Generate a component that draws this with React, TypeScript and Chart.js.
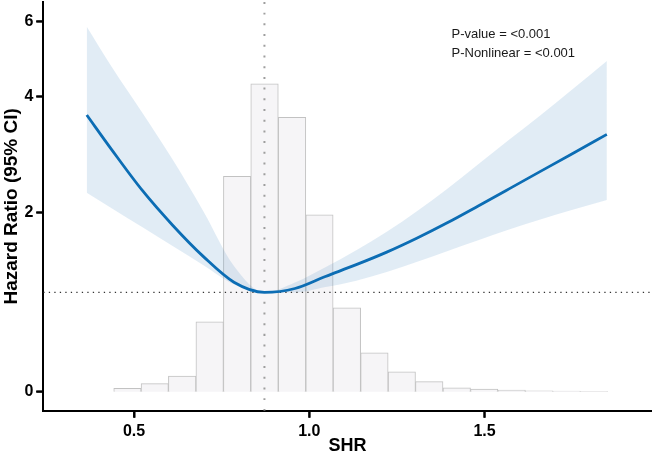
import { useEffect, useRef } from 'react';
import { Chart, registerables } from 'chart.js';

Chart.register(...registerables);

// spline estimate (SHR vs hazard ratio)
const shrGrid = [0.365, 0.436, 0.523, 0.61, 0.698, 0.785, 0.872, 0.959, 1.046, 1.134, 1.221, 1.308, 1.395, 1.482, 1.57, 1.657, 1.744, 1.849];
const hrEstimate = [3.617, 2.976, 2.323, 1.826, 1.421, 1.116, 1.0, 1.044, 1.183, 1.323, 1.477, 1.657, 1.862, 2.093, 2.343, 2.606, 2.885, 3.247];
const hrUpper = [5.827, 4.693, 3.667, 2.806, 2.014, 1.307, 1.0, 1.113, 1.293, 1.5, 1.738, 2.021, 2.349, 2.73, 3.149, 3.599, 4.116, 4.839];
const hrLower = [2.286, 2.061, 1.8, 1.555, 1.317, 1.092, 1.0, 1.0, 1.061, 1.134, 1.236, 1.359, 1.491, 1.627, 1.767, 1.899, 2.027, 2.178];

// SHR distribution (bin midpoints, % of patients)
const binMids = [0.481, 0.559, 0.637, 0.716, 0.794, 0.872, 0.951, 1.029, 1.107, 1.186, 1.264, 1.342, 1.421, 1.499, 1.577, 1.656, 1.734, 1.812];
const binPct = [0.28, 0.65, 1.26, 5.66, 17.46, 24.94, 22.24, 14.34, 6.79, 3.14, 1.6, 0.81, 0.32, 0.22, 0.14, 0.08, 0.05, 0.03];

const refShr = 0.872;
const refHr = 1;
const xTicks = [0.5, 1.0, 1.5];
const yTicks = [0, 2, 4, 6];
const pTexts = ['P-value = <0.001', 'P-Nonlinear = <0.001'];

const X_MIN = 0.241;
const X_MAX = 1.977;
// the HR axis is compressed towards the top
const toAxis = (hr: number) => 1 - Math.exp(-hr / 4.6);
const Y_MIN = -0.0374;
const Y_MAX = 0.7668;
const H_MIN = -1.54;
const H_MAX = 31.58;

const FONT = "'Liberation Sans', Arial, Helvetica, sans-serif";
const TICK_LEN = 7;

// p-value annotation and outward tick marks
const overlayPlugin = {
  id: 'overlay',
  afterDraw(chart: Chart) {
    const { ctx, chartArea } = chart;
    const sx = chart.scales.x;
    const sy = chart.scales.y;
    ctx.save();
    ctx.font = `13px ${FONT}`;
    ctx.fillStyle = '#1a1a1a';
    ctx.textAlign = 'left';
    ctx.textBaseline = 'alphabetic';
    pTexts.forEach((t, i) => ctx.fillText(t, 451.5, 37.6 + i * 19));

    ctx.fillStyle = '#000';
    xTicks.forEach((v) => {
      const px = sx.getPixelForValue(v);
      ctx.fillRect(px - 1, chartArea.bottom, 2, TICK_LEN);
    });
    yTicks.forEach((hr) => {
      const py = sy.getPixelForValue(toAxis(hr));
      ctx.fillRect(chartArea.left - TICK_LEN, py - 1, TICK_LEN, 2);
    });
    ctx.restore();
  },
};

export default function App() {
  const canvasRef = useRef<HTMLCanvasElement>(null);

  useEffect(() => {
    document.body.style.margin = '0';
    if (!canvasRef.current) return;
    const pts = (ys: number[]) => shrGrid.map((x, i) => ({ x, y: toAxis(ys[i]) }));
    const lineBase = { type: 'line' as const, pointRadius: 0, cubicInterpolationMode: 'monotone' as const };

    const chart = new Chart(canvasRef.current, {
      type: 'bar',
      data: {
        datasets: [
          {
            type: 'bar',
            data: binMids.map((x, i) => ({ x, y: binPct[i] })),
            yAxisID: 'y2',
            backgroundColor: '#f6f5f7',
            borderColor: '#c2c2c2',
            borderWidth: 1,
            barThickness: 'flex',
            barPercentage: 1,
            categoryPercentage: 1,
            order: 6,
          },
          {
            ...lineBase,
            data: [{ x: refShr, y: Y_MIN }, { x: refShr, y: Y_MAX }],
            borderColor: '#9e9e9e',
            borderWidth: 2,
            borderDash: [2, 8.7],
            order: 5,
          },
          {
            ...lineBase,
            data: pts(hrLower),
            borderWidth: 0,
            borderColor: 'rgba(0,0,0,0)',
            order: 4,
          },
          {
            ...lineBase,
            data: pts(hrUpper),
            borderWidth: 0,
            borderColor: 'rgba(0,0,0,0)',
            fill: '-1',
            backgroundColor: 'rgba(33,113,181,0.135)',
            order: 4,
          },
          {
            ...lineBase,
            data: [{ x: X_MIN, y: toAxis(refHr) }, { x: X_MAX, y: toAxis(refHr) }],
            borderColor: '#333',
            borderWidth: 1.3,
            borderDash: [1.3, 4.2],
            order: 2,
          },
          {
            ...lineBase,
            data: pts(hrEstimate),
            borderColor: '#0c6db4',
            borderWidth: 2.8,
            order: 1,
          },
        ],
      },
      options: {
        animation: false,
        responsive: true,
        maintainAspectRatio: false,
        layout: { padding: { left: 0, right: 3.3, top: 2, bottom: 0 } },
        plugins: { legend: { display: false }, tooltip: { enabled: false } },
        scales: {
          x: {
            type: 'linear',
            min: X_MIN,
            max: X_MAX,
            offset: false,
            afterFit: (s) => { s.height = 46.3; s.paddingLeft = 0; s.paddingRight = 0; },
            afterBuildTicks: (s) => { s.ticks = xTicks.map((value) => ({ value })); },
            grid: { offset: false, drawOnChartArea: false, drawTicks: true, tickLength: TICK_LEN, tickWidth: 2, tickColor: '#000' },
            border: { display: true, color: '#000', width: 2 },
            ticks: {
              autoSkip: false,
              maxRotation: 0,
              padding: 4,
              color: '#000',
              font: { family: FONT, size: 16, weight: 'bold' },
              callback: (v) => Number(v).toFixed(1),
            },
            title: {
              display: true,
              text: 'SHR',
              color: '#000',
              font: { family: FONT, size: 18, weight: 'bold' },
              padding: { top: 0, bottom: 0 },
            },
          },
          y: {
            type: 'linear',
            min: Y_MIN,
            max: Y_MAX,
            afterFit: (s) => { s.width = 43.3; s.paddingTop = 0; s.paddingBottom = 0; },
            afterBuildTicks: (s) => { s.ticks = yTicks.map((hr) => ({ value: toAxis(hr) })); },
            grid: { drawOnChartArea: false, drawTicks: true, tickLength: TICK_LEN, tickWidth: 2, tickColor: '#000' },
            border: { display: true, color: '#000', width: 2 },
            ticks: {
              autoSkip: false,
              padding: 3,
              color: '#000',
              font: { family: FONT, size: 16, weight: 'bold' },
              callback: (_v, i) => String(yTicks[i]),
            },
            title: {
              display: true,
              text: 'Hazard Ratio (95% CI)',
              color: '#000',
              font: { family: FONT, size: 19, weight: 'bold' },
              padding: { top: 0, bottom: 0 },
            },
          },
          y2: {
            type: 'linear',
            display: false,
            min: H_MIN,
            max: H_MAX,
          },
        },
      },
      plugins: [overlayPlugin],
    });
    return () => { chart.destroy(); };
  }, []);

  return (
    <div style={{ position: 'relative', width: 655, height: 457, background: '#fff' }}>
      <canvas ref={canvasRef} />
    </div>
  );
}
